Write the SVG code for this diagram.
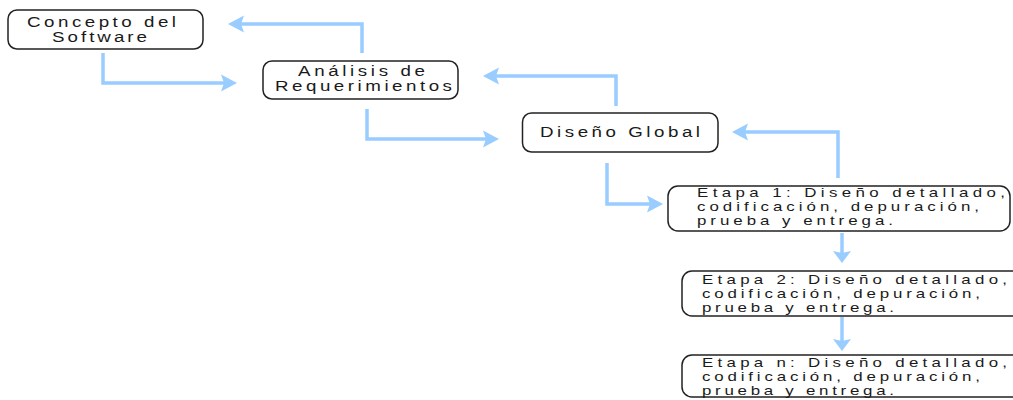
<svg xmlns="http://www.w3.org/2000/svg" width="1013" height="400" viewBox="0 0 1013 400">
<style>
.box{fill:#fff;stroke:#222;stroke-width:1.5}
.t{font-family:"Liberation Sans",Arial,sans-serif;fill:#1a1a1a}
.t15{font-size:15px}
.t14{font-size:13.5px}
.c{fill:none;stroke:#99ccff;stroke-width:3.5}
</style>
<defs>
<marker id="ah" markerUnits="userSpaceOnUse" viewBox="0 -9 16 18" markerWidth="16" markerHeight="18" refX="6" refY="0" orient="auto">
<path d="M0,-8.5 L16,0 L0,8.5 L3,0 Z" fill="#99ccff"/>
</marker>
<marker id="ad" markerUnits="userSpaceOnUse" viewBox="0 -10 12 20" markerWidth="12" markerHeight="20" refX="5" refY="0" orient="auto">
<path d="M0,-9 L12,0 L0,9 L2,0 Z" fill="#99ccff"/>
</marker>
</defs>
<rect width="1013" height="400" fill="#fff"/>
<g id="connectors">
<path class="c" d="M103,53 V83 H227" marker-end="url(#ah)"/>
<path class="c" d="M362,53 V24 H238" marker-end="url(#ah)"/>
<path class="c" d="M367,109 V139 H489" marker-end="url(#ah)"/>
<path class="c" d="M616,106 V76 H493" marker-end="url(#ah)"/>
<path class="c" d="M607,163 V204 H653" marker-end="url(#ah)"/>
<path class="c" d="M838,178 V132 H742" marker-end="url(#ah)"/>
<path class="c" d="M842,233 V256" marker-end="url(#ad)"/>
<path class="c" d="M842,317 V344" marker-end="url(#ad)"/>
</g>
<g id="concepto">
<rect class="box" x="8" y="10" width="195" height="39" rx="9"/>
<g transform="scale(1.25,1)">
<text class="t t15" x="21.6" y="27" textLength="119.2" lengthAdjust="spacing">Concepto del</text>
<text class="t t15" x="41.6" y="42" textLength="76" lengthAdjust="spacing">Software</text>
</g>
</g>
<g id="analisis">
<rect class="box" x="263" y="61" width="195" height="38" rx="9"/>
<g transform="scale(1.25,1)">
<text class="t t15" x="238.4" y="76" textLength="101.6" lengthAdjust="spacing">Análisis de</text>
<text class="t t15" x="220" y="91" textLength="141.6" lengthAdjust="spacing">Requerimientos</text>
</g>
</g>
<g id="diseno-global">
<rect class="box" x="522.5" y="113" width="195.5" height="39" rx="9"/>
<g transform="scale(1.25,1)">
<text class="t t15" x="432" y="137" textLength="128" lengthAdjust="spacing">Diseño Global</text>
</g>
</g>
<g id="etapa1">
<rect class="box" x="668" y="186" width="342" height="45" rx="10"/>
<g transform="scale(1.25,1)">
<text class="t t14" x="557.6" y="197" textLength="246.4" lengthAdjust="spacing">Etapa 1: Diseño detallado,</text>
<text class="t t14" x="557.6" y="211" textLength="225.6" lengthAdjust="spacing">codificación, depuración,</text>
<text class="t t14" x="557.6" y="225" textLength="156.8" lengthAdjust="spacing">prueba y entrega.</text>
</g>
</g>
<g id="etapa2">
<rect class="box" x="682" y="271" width="345" height="45" rx="10"/>
<g transform="scale(1.25,1)">
<text class="t t14" x="561.6" y="284" textLength="244" lengthAdjust="spacing">Etapa 2: Diseño detallado,</text>
<text class="t t14" x="561.6" y="298" textLength="222.4" lengthAdjust="spacing">codificación, depuración,</text>
<text class="t t14" x="561.6" y="312" textLength="153.6" lengthAdjust="spacing">prueba y entrega.</text>
</g>
</g>
<g id="etapan">
<rect class="box" x="682" y="355" width="345" height="42" rx="10"/>
<g transform="scale(1.25,1)">
<text class="t t14" x="561.6" y="367" textLength="244" lengthAdjust="spacing">Etapa n: Diseño detallado,</text>
<text class="t t14" x="561.6" y="381" textLength="222.4" lengthAdjust="spacing">codificación, depuración,</text>
<text class="t t14" x="561.6" y="395" textLength="153.6" lengthAdjust="spacing">prueba y entrega.</text>
</g>
</g>
</svg>
